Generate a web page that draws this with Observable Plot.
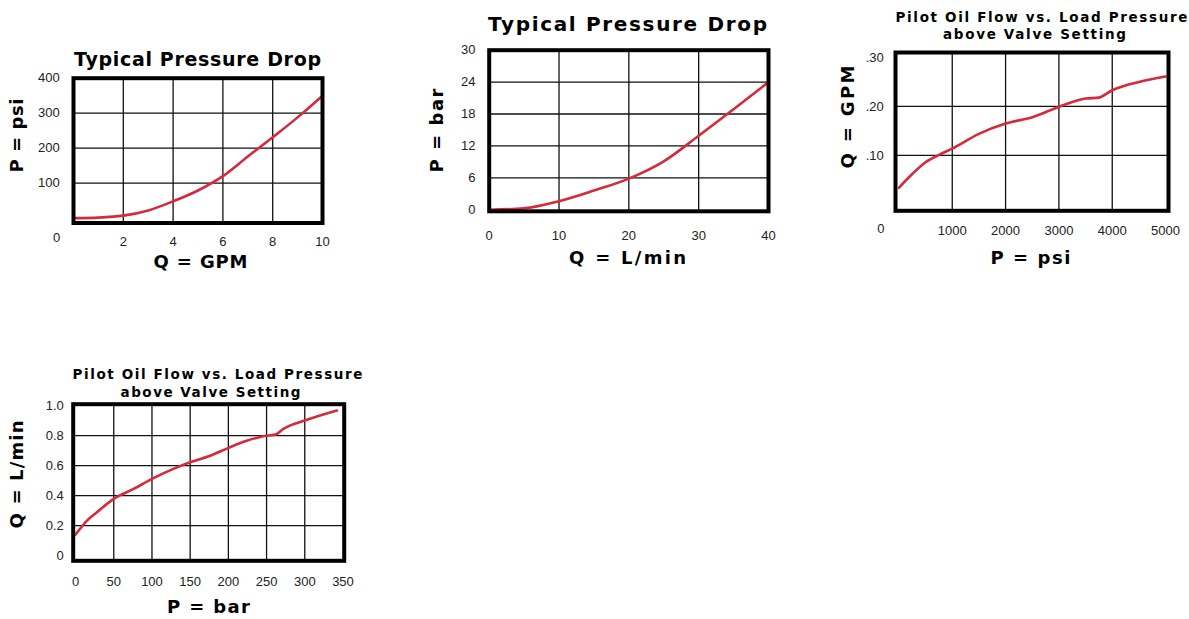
<!DOCTYPE html>
<html>
<head>
<meta charset="utf-8">
<script src="https://cdn.jsdelivr.net/npm/d3@7"></script>
<script src="https://cdn.jsdelivr.net/npm/@observablehq/plot@0.6"></script>
<style>
  html, body { margin: 0; padding: 0; background: #fff; }
  #page { position: relative; width: 1189px; height: 619px; overflow: hidden; }
</style>
</head>
<body>
<div id="page"></div>
<script>
// ---------- Chart 1: Typical Pressure Drop (psi vs GPM) ----------
const c1Gpm = [0, 1, 2, 3, 4, 5, 6, 7, 8, 9, 10];
const c1Psi = [0, 1.5, 7, 22, 48, 79, 120, 176, 231, 288, 350];
const c1XTicks = [2, 4, 6, 8, 10];
const c1XTickLabels = ["2", "4", "6", "8", "10"];
const c1YTicks = [100, 200, 300, 400];
const c1YTickLabels = ["100", "200", "300", "400"];
const c1XGrid = [2, 4, 6, 8];
const c1YGrid = [100, 200, 300];
const c1Corner = "0";
const c1Title = "Typical Pressure Drop";
const c1XLabel = "Q = GPM";
const c1YLabel = "P = psi";

// ---------- Chart 2: Typical Pressure Drop (bar vs L/min) ----------
const c2Lmin = [0, 5, 10, 15, 20, 25, 30, 35, 40];
const c2Bar = [0, 0.25, 1.6, 3.6, 5.85, 9.1, 13.9, 18.9, 24.0];
const c2XTicks = [0, 10, 20, 30, 40];
const c2XTickLabels = ["0", "10", "20", "30", "40"];
const c2YTicks = [0, 6, 12, 18, 24, 30];
const c2YTickLabels = ["0", "6", "12", "18", "24", "30"];
const c2XGrid = [10, 20, 30];
const c2YGrid = [6, 12, 18, 24];
const c2Title = "Typical Pressure Drop";
const c2XLabel = "Q = L/min";
const c2YLabel = "P = bar";

// ---------- Chart 3: Pilot Oil Flow (GPM vs psi) ----------
const c3Psi = [0, 250, 500, 750, 1000, 1500, 2000, 2500, 3000, 3500, 3750, 4000, 4500, 5000];
const c3Gpm = [0.034, 0.062, 0.086, 0.101, 0.114, 0.144, 0.165, 0.178, 0.199, 0.216, 0.218, 0.233, 0.25, 0.261];
const c3XTicks = [1000, 2000, 3000, 4000, 5000];
const c3XTickLabels = ["1000", "2000", "3000", "4000", "5000"];
const c3YTicks = [0.1, 0.2, 0.3];
const c3YTickLabels = [".10", ".20", ".30"];
const c3XGrid = [1000, 2000, 3000, 4000];
const c3YGrid = [0.1, 0.2];
const c3Corner = "0";
const c3Title1 = "Pilot Oil Flow vs. Load Pressure";
const c3Title2 = "above Valve Setting";
const c3XLabel = "P = psi";
const c3YLabel = "Q = GPM";

// ---------- Chart 4: Pilot Oil Flow (L/min vs bar) ----------
const c4Bar = [0, 15, 28, 50, 76, 100, 128, 150, 177, 200, 225, 251, 262, 272, 300, 342];
const c4Lmin = [0.14, 0.233, 0.289, 0.378, 0.444, 0.511, 0.578, 0.622, 0.667, 0.718, 0.767, 0.8, 0.807, 0.844, 0.9, 0.967];
const c4XTicks = [0, 50, 100, 150, 200, 250, 300, 350];
const c4XTickLabels = ["0", "50", "100", "150", "200", "250", "300", "350"];
const c4YTicks = [0, 0.2, 0.4, 0.6, 0.8, 1.0];
const c4YTickLabels = ["0", "0.2", "0.4", "0.6", "0.8", "1.0"];
const c4XGrid = [50, 100, 150, 200, 250, 300];
const c4YGrid = [0.2, 0.4, 0.6, 0.8];
const c4Title1 = "Pilot Oil Flow vs. Load Pressure";
const c4Title2 = "above Valve Setting";
const c4XLabel = "P = bar";
const c4YLabel = "Q = L/min";

const FONT = "'Liberation Sans', Arial, Helvetica, sans-serif";
const BOLD_FONT = "'DejaVu Sans', Verdana, sans-serif";
const RED = "#d42a3c";

function makeChart(cfg) {
  const {box, frame} = cfg;
  const mL = frame.l - box.x, mT = frame.t - box.y;
  const mR = box.x + box.w - frame.r, mB = box.y + box.h - frame.b;
  const data = cfg.xs.map((x, i) => ({x, y: cfg.ys[i]}));
  const lookup = (ticks, labels) => (d) => labels[ticks.findIndex((t) => Math.abs(t - d) < 1e-9)];
  const marks = [
    Plot.gridX({ticks: cfg.xGrid, stroke: "#111", strokeOpacity: 1, strokeWidth: 1.3}),
    Plot.gridY({ticks: cfg.yGrid, stroke: "#111", strokeOpacity: 1, strokeWidth: 1.3}),
    Plot.line(data, {x: "x", y: "y", stroke: RED, strokeWidth: 2.6, curve: "monotone-x"}),
    Plot.frame({stroke: "#000", strokeWidth: 4}),
    Plot.axisX({ticks: cfg.xTicks, tickFormat: lookup(cfg.xTicks, cfg.xLabels), tickSize: 0,
      tickPadding: cfg.xPad, fontSize: 13, color: "#222", label: null}),
    Plot.axisY({ticks: cfg.yTicks, tickFormat: lookup(cfg.yTicks, cfg.yLabels), tickSize: 0,
      tickPadding: cfg.yPad, fontSize: 13, color: "#222", label: null}),
    ...cfg.texts.map((t) => Plot.text([t.s], {
      text: (d) => d,
      frameAnchor: "top-left",
      dx: t.x - frame.l,
      dy: t.y - frame.t,
      textAnchor: "middle",
      lineAnchor: t.line || "bottom",
      fontSize: t.size,
      fontFamily: t.bold === false ? FONT : BOLD_FONT,
      fontWeight: t.bold === false ? "normal" : "bold",
      fill: t.fill || "#000",
      rotate: t.rotate || 0
    }))
  ];
  const svg = Plot.plot({
    width: box.w, height: box.h,
    marginLeft: mL, marginTop: mT, marginRight: mR, marginBottom: mB,
    x: {domain: cfg.xDomain, label: null},
    y: {domain: cfg.yDomain, label: null},
    style: {fontFamily: FONT, background: "transparent", overflow: "visible"},
    marks
  });
  svg.style.position = "absolute";
  svg.style.left = box.x + "px";
  svg.style.top = box.y + "px";
  svg.style.maxWidth = "none";
  svg.querySelectorAll("text").forEach((el) => {
    const t = cfg.texts.find((t) => t.w && t.s === el.textContent);
    if (t) {
      el.setAttribute("textLength", t.w);
      el.setAttribute("lengthAdjust", "spacing");
    }
  });
  return svg;
}

const page = document.getElementById("page");

page.appendChild(makeChart({
  box: {x: 0, y: 0, w: 345, h: 285},
  frame: {l: 73, r: 322, t: 77.7, b: 222.5},
  xDomain: [0, 10], yDomain: [-14, 400],
  xs: c1Gpm, ys: c1Psi,
  xGrid: c1XGrid, yGrid: c1YGrid,
  xTicks: c1XTicks, xLabels: c1XTickLabels, yTicks: c1YTicks, yLabels: c1YTickLabels,
  xPad: 14.2, yPad: 13.7,
  texts: [
    {s: c1Title, x: 197, y: 65, size: 19, w: 247},
    {s: c1XLabel, x: 200, y: 267, size: 18, w: 94},
    {s: c1YLabel, x: 22, y: 135, size: 18, w: 74, rotate: -90},
    {s: c1Corner, x: 56, y: 237.5, size: 13, bold: false, fill: "#222", line: "middle"}
  ]
}));

page.appendChild(makeChart({
  box: {x: 415, y: 0, w: 375, h: 285},
  frame: {l: 488.7, r: 768, t: 49.7, b: 210.8},
  xDomain: [0, 40], yDomain: [-0.3, 30],
  xs: c2Lmin, ys: c2Bar,
  xGrid: c2XGrid, yGrid: c2YGrid,
  xTicks: c2XTicks, xLabels: c2XTickLabels, yTicks: c2YTicks, yLabels: c2YTickLabels,
  xPad: 19.2, yPad: 13.7,
  texts: [
    {s: c2Title, x: 627, y: 30, size: 20, w: 279},
    {s: c2XLabel, x: 627, y: 263, size: 18, w: 117},
    {s: c2YLabel, x: 442, y: 130, size: 18, w: 84, rotate: -90}
  ]
}));

page.appendChild(makeChart({
  box: {x: 825, y: 0, w: 364, h: 285},
  frame: {l: 895, r: 1168, t: 52, b: 210.3},
  xDomain: [-64, 5055], yDomain: [-0.013, 0.31],
  xs: c3Psi, ys: c3Gpm,
  xGrid: c3XGrid, yGrid: c3YGrid,
  xTicks: c3XTicks, xLabels: c3XTickLabels, yTicks: c3YTicks, yLabels: c3YTickLabels,
  xPad: 14.7, yPad: 11.7,
  texts: [
    {s: c3Title1, x: 1041, y: 21.7, size: 13.5, w: 292},
    {s: c3Title2, x: 1034, y: 38.3, size: 13.5, w: 183},
    {s: c3XLabel, x: 1030, y: 263, size: 18, w: 80},
    {s: c3YLabel, x: 853, y: 116.5, size: 18, w: 103, rotate: -90},
    {s: c3Corner, x: 880.3, y: 228.3, size: 13, bold: false, fill: "#222", line: "middle"}
  ]
}));

page.appendChild(makeChart({
  box: {x: 0, y: 340, w: 370, h: 279},
  frame: {l: 72.7, r: 343.7, t: 403.7, b: 560.3},
  xDomain: [-3.1, 351.6], yDomain: [-0.035, 1.009],
  xs: c4Bar, ys: c4Lmin,
  xGrid: c4XGrid, yGrid: c4YGrid,
  xTicks: c4XTicks, xLabels: c4XTickLabels, yTicks: c4YTicks, yLabels: c4YTickLabels,
  xPad: 16.4, yPad: 9.4,
  texts: [
    {s: c4Title1, x: 217, y: 378.3, size: 13.5, w: 290},
    {s: c4Title2, x: 210, y: 396, size: 13.5, w: 180},
    {s: c4XLabel, x: 208, y: 612, size: 18, w: 83},
    {s: c4YLabel, x: 23, y: 474, size: 18, w: 108, rotate: -90}
  ]
}));
</script>
</body>
</html>
